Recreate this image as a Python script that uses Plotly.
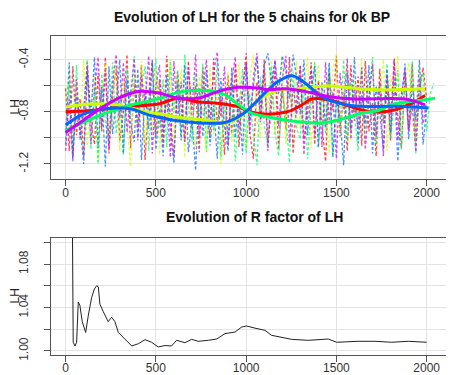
import plotly.graph_objects as go

# ---------------- data ----------------
STEP = 20  # iteration spacing of the sampled chain values

chain_names = ["chain 1", "chain 2", "chain 3", "chain 4", "chain 5"]
chain_colors = ["#FF0000", "#CCFF00", "#00FF66", "#0066FF", "#CC00FF"]

lh_chain1 = [-0.62,-1.10,-0.45,-0.98,-0.70,-1.15,-0.42,-0.88,-1.05,-0.50,
             -0.95,-0.38,-1.12,-0.66,-0.47,-1.02,-0.80,-0.36,-1.08,-0.58,
             -0.92,-0.44,-1.17,-0.72,-0.40,-0.99,-0.55,-1.06,-0.37,-0.85,
             -1.14,-0.49,-0.77,-1.03,-0.41,-0.93,-0.60,-1.11,-0.46,-0.82,
             -1.00,-0.39,-0.90,-0.68,-1.13,-0.52,-0.97,-0.43,-1.07,-0.64,
             -0.35,-0.96,-1.16,-0.57,-0.86,-0.40,-1.04,-0.74,-0.48,-1.09,
             -0.61,-0.94,-0.38,-1.12,-0.70,-0.45,-1.01,-0.83,-0.42,-1.05,
             -0.56,-0.91,-1.18,-0.50,-0.79,-0.37,-0.99,-0.65,-1.10,-0.44,
             -0.87,-0.53,-1.06,-0.41,-0.95,-0.73,-1.14,-0.47,-0.89,-0.60,
             -1.02,-0.39,-0.84,-1.08,-0.51,-0.93,-0.43,-1.00,-0.62,-0.46,-0.70]
lh_chain2 = [-0.70,-0.48,-1.12,-0.60,-0.95,-0.40,-1.06,-0.75,-0.52,-1.18,
             -0.66,-0.43,-0.99,-0.85,-0.38,-1.10,-0.57,-0.92,-1.22,-0.50,
             -0.81,-0.41,-1.04,-0.69,-0.96,-0.45,-1.13,-0.62,-0.88,-0.39,
             -1.01,-0.76,-0.47,-1.15,-0.58,-0.90,-1.07,-0.53,-0.83,-1.11,
             -0.44,-0.97,-0.64,-1.20,-0.71,-0.49,-1.03,-0.80,-0.42,-0.94,
             -1.09,-0.55,-0.36,-0.87,-1.00,-0.46,-0.78,-0.40,-0.98,-0.63,
             -0.37,-1.05,-0.54,-0.82,-0.41,-0.93,-0.67,-0.38,-1.08,-0.59,
             -0.44,-0.89,-0.72,-1.12,-0.48,-0.36,-0.96,-0.65,-0.43,-1.02,
             -0.56,-0.84,-0.39,-1.07,-0.61,-0.45,-0.91,-0.74,-0.40,-1.10,
             -0.52,-0.68,-0.37,-0.95,-0.58,-0.42,-0.86,-1.04,-0.47,-0.66]
lh_chain3 = [-0.95,-0.58,-1.16,-0.44,-1.02,-0.77,-0.40,-1.09,-0.63,-1.20,
             -0.51,-0.88,-1.05,-0.42,-0.97,-0.70,-1.13,-0.46,-0.83,-0.37,
             -1.00,-0.60,-0.45,-1.10,-0.67,-0.39,-0.92,-0.55,-1.07,-0.41,
             -0.81,-0.48,-0.99,-0.36,-0.74,-1.03,-0.50,-0.86,-0.43,-1.11,
             -0.62,-0.94,-0.40,-1.15,-0.72,-1.04,-0.56,-1.18,-0.79,-0.47,
             -1.12,-0.66,-0.98,-1.21,-0.53,-0.90,-1.06,-0.45,-0.96,-1.14,
             -0.61,-0.85,-1.19,-0.49,-0.93,-1.01,-0.58,-1.16,-0.75,-0.42,
             -1.08,-0.64,-0.97,-0.44,-1.13,-0.70,-0.89,-0.40,-1.02,-0.57,
             -0.82,-1.10,-0.46,-0.94,-0.68,-0.38,-1.05,-0.59,-0.87,-0.43,
             -1.00,-0.73,-0.48,-1.09,-0.55,-0.80,-0.41,-1.12,-0.63,-0.50,
             -0.95,-0.66,-0.58]
lh_chain4 = [-1.05,-0.42,-1.15,-0.68,-0.90,-1.20,-0.50,-0.83,-0.38,-1.08,
             -0.61,-1.22,-0.45,-0.97,-0.72,-0.40,-1.12,-0.55,-0.88,-1.03,
             -0.47,-1.17,-0.64,-0.93,-0.41,-1.09,-0.78,-1.14,-0.52,-0.96,
             -1.19,-0.58,-1.02,-0.44,-1.11,-0.86,-1.25,-0.62,-0.99,-0.48,
             -1.06,-0.75,-1.16,-0.54,-0.91,-1.10,-0.46,-1.00,-0.69,-1.13,
             -0.43,-0.87,-0.60,-0.39,-0.76,-0.45,-0.35,-0.58,-0.41,-0.66,
             -0.37,-0.49,-0.70,-0.36,-0.54,-0.82,-0.40,-0.98,-0.63,-0.45,
             -1.07,-0.57,-0.92,-0.42,-1.15,-0.71,-0.85,-1.21,-0.50,-0.94,
             -0.38,-1.04,-0.67,-0.89,-0.44,-1.12,-0.60,-0.81,-1.09,-0.47,
             -0.96,-0.55,-1.18,-0.73,-0.43,-1.01,-0.59,-0.86,-0.40,-1.05,-0.77]
lh_chain5 = [-1.10,-0.70,-1.18,-0.55,-1.00,-0.80,-0.45,-1.05,-0.62,-0.38,
             -0.92,-0.48,-1.08,-0.58,-0.36,-0.85,-0.42,-0.96,-0.66,-0.39,
             -1.02,-0.52,-0.74,-0.37,-1.12,-0.60,-0.44,-0.95,-0.68,-1.15,
             -0.41,-0.88,-0.57,-1.03,-0.46,-0.79,-0.36,-0.99,-0.63,-0.40,
             -0.90,-0.50,-0.34,-0.84,-0.45,-1.06,-0.56,-0.38,-0.93,-0.61,
             -0.43,-0.97,-0.53,-0.35,-0.88,-0.47,-1.10,-0.64,-0.40,-0.91,
             -0.55,-0.37,-1.04,-0.60,-0.82,-0.44,-1.13,-0.69,-0.48,-0.98,
             -0.58,-1.07,-0.42,-0.87,-0.65,-1.16,-0.50,-0.78,-0.39,-1.01,
             -0.62,-0.93,-0.46,-1.09,-0.71,-0.43,-0.99,-0.57,-1.14,-0.52,
             -0.85,-0.41,-1.02,-0.67,-0.47,-0.95,-0.74,-1.11,-0.54,-0.89,-0.72]

# smoothed (loess) curves per chain: iterations and values
smooth1_x = [0,144,329,514,624,717,828,901,957,1012,1123,1234,1309,1363,1455,1548,1640,1732,1825,1917,1991]
smooth1_y = [-0.80,-0.79,-0.76,-0.74,-0.695,-0.72,-0.733,-0.746,-0.76,-0.797,-0.818,-0.797,-0.746,-0.702,-0.707,-0.746,-0.785,-0.802,-0.785,-0.733,-0.674]
smooth2_x = [0,89,181,274,366,458,514,661,790,883,957,1030,1104,1178,1326,1455,1548,1732,1991]
smooth2_y = [-0.764,-0.746,-0.738,-0.746,-0.772,-0.805,-0.815,-0.848,-0.866,-0.887,-0.848,-0.758,-0.675,-0.635,-0.618,-0.60,-0.612,-0.631,-0.623]
smooth3_x = [0,89,181,274,366,458,514,624,698,790,883,957,1030,1123,1234,1344,1418,1529,1640,1732,1806,1991,2046]
smooth3_y = [-0.943,-0.887,-0.831,-0.785,-0.746,-0.72,-0.70,-0.651,-0.636,-0.638,-0.669,-0.746,-0.81,-0.84,-0.866,-0.882,-0.887,-0.856,-0.81,-0.79,-0.746,-0.708,-0.695]
smooth4_x = [0,89,181,274,366,458,514,600,698,790,883,975,1067,1123,1178,1254,1326,1418,1511,1640,1825,2010]
smooth4_y = [-0.90,-0.823,-0.785,-0.771,-0.779,-0.823,-0.84,-0.865,-0.88,-0.887,-0.882,-0.823,-0.708,-0.63,-0.566,-0.523,-0.579,-0.682,-0.733,-0.758,-0.758,-0.771]
smooth5_x = [0,89,181,274,366,421,514,624,735,846,957,1067,1123,1215,1326,1455,1603,1732,1880,1991]
smooth5_y = [-0.959,-0.874,-0.785,-0.708,-0.656,-0.643,-0.656,-0.695,-0.695,-0.643,-0.612,-0.618,-0.631,-0.623,-0.643,-0.682,-0.702,-0.70,-0.702,-0.746]

# R factor evolution
r_iter = [30,36,42,52,61,70,79,92,111,126,135,144,159,172,181,190,209,236,255,273,292,329,366,403,440,476,513,550,587,615,661,698,735,790,837,883,938,975,1003,1049,1104,1141,1197,1252,1344,1455,1501,1621,1714,1806,1898,2000]
r_value = [1.30,1.10,1.008,1.0046,1.008,1.045,1.042,1.027,1.017,1.033,1.042,1.049,1.057,1.060,1.059,1.043,1.036,1.027,1.031,1.027,1.017,1.011,1.0046,1.0067,1.0104,1.008,1.0037,1.005,1.0046,1.0098,1.0076,1.0107,1.0089,1.0098,1.011,1.016,1.0174,1.022,1.023,1.021,1.019,1.0144,1.0128,1.0107,1.0098,1.011,1.008,1.0089,1.0089,1.008,1.0089,1.008]

x_ticks = [0, 500, 1000, 1500, 2000]
y1_ticks = [-1.2, -1.0, -0.8, -0.6, -0.4]
y1_text = ["-1.2", "", "-0.8", "", "-0.4"]
y2_ticks = [1.00, 1.02, 1.04, 1.06, 1.08, 1.10]
y2_text = ["1.00", "", "1.04", "", "1.08", ""]

title_top = "Evolution of LH for the 5 chains for 0k BP"
title_bottom = "Evolution of R factor of LH"
y_label = "LH"

# ---------------- figure ----------------
chains = [lh_chain1, lh_chain2, lh_chain3, lh_chain4, lh_chain5]
smooths = [(smooth1_x, smooth1_y), (smooth2_x, smooth2_y), (smooth3_x, smooth3_y),
           (smooth4_x, smooth4_y), (smooth5_x, smooth5_y)]

fig = go.Figure()
for name, col, vals in zip(chain_names, chain_colors, chains):
    fig.add_trace(go.Scatter(
        x=[i * STEP for i in range(len(vals))], y=vals, mode="lines",
        line=dict(color=col, width=1.3, dash="3px,2px"), opacity=0.72,
        name=name, xaxis="x", yaxis="y", hoverinfo="skip"))
for name, col, (sx, sy) in zip(chain_names, chain_colors, smooths):
    fig.add_trace(go.Scatter(
        x=sx, y=sy, mode="lines", line=dict(color=col, width=3, shape="spline"),
        name=name + " smooth", xaxis="x", yaxis="y"))
fig.add_trace(go.Scatter(x=r_iter, y=r_value, mode="lines",
                         line=dict(color="#222222", width=1),
                         name="R factor", xaxis="x2", yaxis="y2"))

font_family = "Liberation Sans, Arial, sans-serif"
axis_common = dict(showgrid=True, gridcolor="#E3E3E3", gridwidth=1,
                   showline=True, linecolor="#555555", linewidth=1, mirror=True,
                   ticks="outside", ticklen=6, tickcolor="#555555",
                   tickfont=dict(size=12, color="#333333", family=font_family),
                   zeroline=False, automargin=False)
label_font = dict(size=12, color="#222222", family=font_family)

fig.update_layout(
    width=454, height=375,
    margin=dict(l=43, r=3, t=28, b=28),
    paper_bgcolor="white", plot_bgcolor="white",
    showlegend=False,
    font=dict(family=font_family, color="#222222"),
    xaxis=dict(domain=[0, 1], range=[-81, 2179], tickvals=x_ticks, anchor="y",
               ticklabelstandoff=-3, **axis_common),
    yaxis=dict(domain=[0.552, 1], range=[-1.315, -0.218], tickvals=y1_ticks,
               ticktext=y1_text, tickangle=-90, anchor="x", ticklabelstandoff=11,
               **axis_common),
    xaxis2=dict(domain=[0, 1], range=[-81, 2179], tickvals=x_ticks, anchor="y2",
                ticklabelstandoff=-4, **axis_common),
    yaxis2=dict(domain=[0, 0.367], range=[0.9963, 1.104], tickvals=y2_ticks,
                ticktext=y2_text, tickangle=-90, anchor="x2", ticklabelstandoff=11,
                **axis_common),
    annotations=[
        dict(text="<b>" + title_top + "</b>", xref="paper", yref="paper",
             x=0.492, y=1.0605, showarrow=False, xanchor="center", yanchor="middle",
             font=dict(size=14, color="#111111", family=font_family)),
        dict(text="<b>" + title_bottom + "</b>", xref="paper", yref="paper",
             x=0.498, y=0.4326, showarrow=False, xanchor="center", yanchor="middle",
             font=dict(size=14, color="#111111", family=font_family)),
        dict(text=y_label, xref="paper", yref="paper", x=0, xshift=-36, y=0.776,
             textangle=-90, showarrow=False, xanchor="center", yanchor="middle",
             borderpad=0, font=label_font),
        dict(text=y_label, xref="paper", yref="paper", x=0, xshift=-36, y=0.1834,
             textangle=-90, showarrow=False, xanchor="center", yanchor="middle",
             borderpad=0, font=label_font),
    ],
)

fig.write_html("out.html")
